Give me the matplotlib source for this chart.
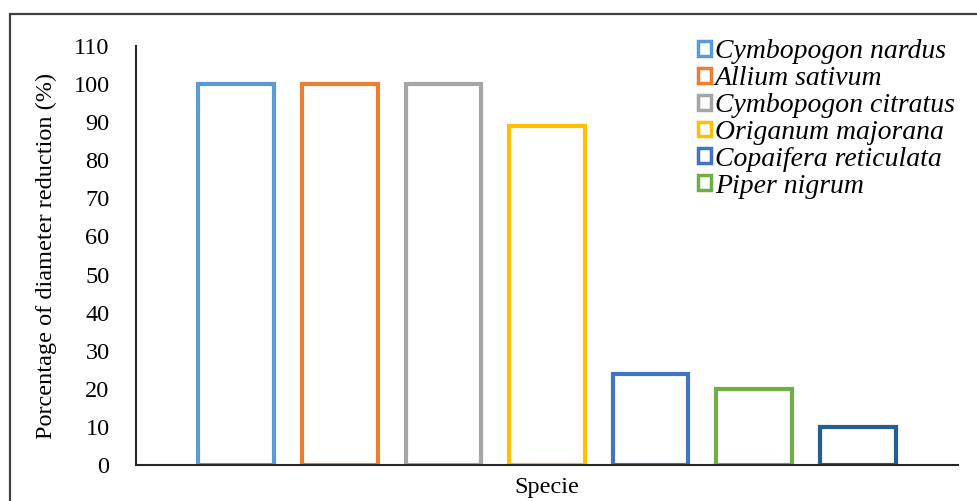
import matplotlib
matplotlib.use("Agg")
import matplotlib.pyplot as plt
import matplotlib.patches as mpatches

# percentage of diameter reduction per essential oil
species = [
    "Cymbopogon nardus",
    "Allium sativum",
    "Cymbopogon citratus",
    "Origanum majorana",
    "Copaifera reticulata",
    "Piper nigrum",
    "",
]
reduction = [100, 100, 100, 89, 24, 20, 10]
colors = ["#5B9BD5", "#ED7D31", "#A5A5A5", "#FFC000", "#4472C4", "#70AD47", "#255E91"]
y_ticks = list(range(0, 111, 10))

plt.rcParams["font.family"] = ["Liberation Serif", "DejaVu Serif"]

fig = plt.figure(figsize=(9.78, 5.01), dpi=100)
ax = fig.add_axes([0.139, 0.0719, 0.8406, 0.8363])

xs = list(range(len(reduction)))
ax.bar(xs, reduction, width=0.73, facecolor="white", edgecolor=colors,
       linewidth=3.0, zorder=2)

half = len(xs) / 2 + 0.467
ax.set_xlim(3 - half, 3 + half)
ax.set_ylim(0, 110)
ax.set_yticks(y_ticks)
ax.set_yticklabels([str(t) for t in y_ticks], fontsize=17.5)
ax.set_xticks([])
ax.tick_params(axis="y", length=0, pad=19)

for side in ("top", "right"):
    ax.spines[side].set_visible(False)
for side in ("left", "bottom"):
    ax.spines[side].set_color("#262626")
    ax.spines[side].set_linewidth(1.5)
    ax.spines[side].set_zorder(3)

ax.set_ylabel("Porcentage of diameter reduction (%)", fontsize=17.5, labelpad=12)
ax.set_xlabel("Specie", fontsize=17.5, labelpad=9)

# legend only lists the named species
handles = [
    mpatches.Patch(facecolor="white", edgecolor=c, linewidth=2.5, label=s)
    for s, c in zip(species, colors) if s
]
fig.legend(
    handles=handles,
    loc="upper left",
    bbox_to_anchor=(0.714, 0.922),
    frameon=False,
    prop={"family": ["Liberation Serif"], "style": "italic", "size": 20},
    handlelength=0.45,
    handleheight=0.45,
    handletextpad=0.15,
    labelspacing=0.07,
    borderpad=0,
    borderaxespad=0,
)

# outer frame around the chart area
top = 1 - 14 / 501
fig.patches.append(mpatches.Rectangle(
    (10 / 978, -0.2), 1.2, top + 0.2,
    transform=fig.transFigure, fill=False, edgecolor="#404040", linewidth=1.6,
))

fig.savefig("out.png", dpi=100)
